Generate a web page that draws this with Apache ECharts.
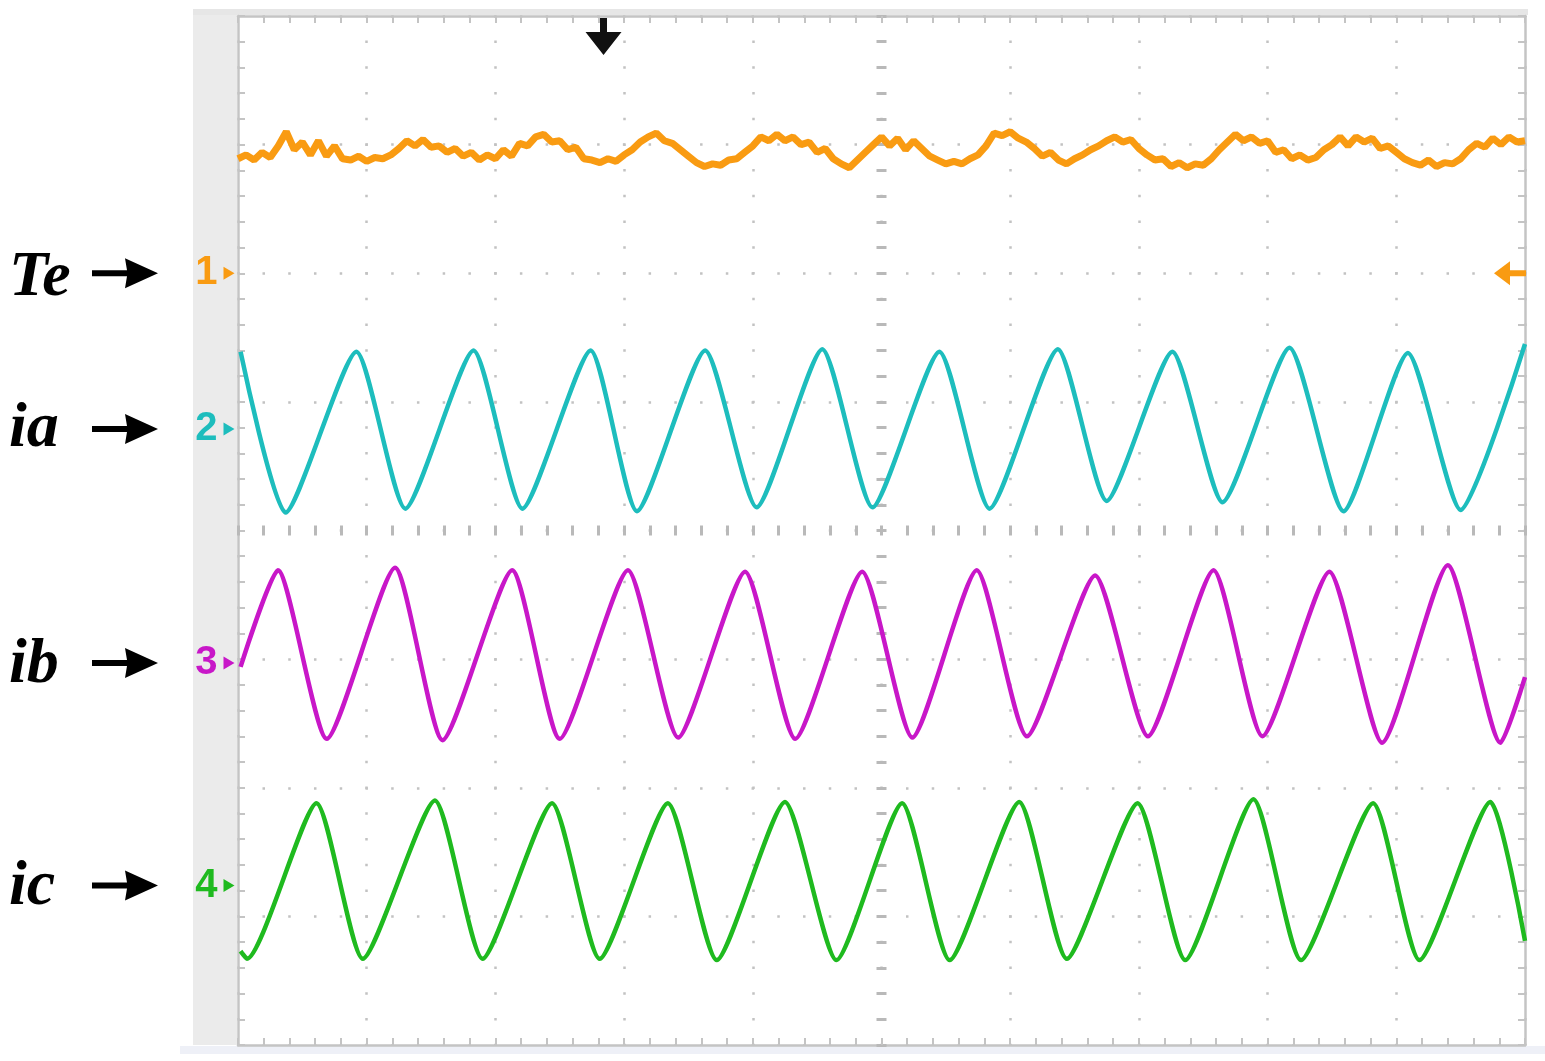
<!DOCTYPE html>
<html>
<head>
<meta charset="utf-8">
<script src="https://cdn.jsdelivr.net/npm/echarts@6/dist/echarts.min.js"></script>
<style>
html, body { margin: 0; padding: 0; background: #fff; }
#chart { width: 1545px; height: 1061px; }
</style>
</head>
<body>
<div id="chart"></div>
<script>
// scope screen, 10 x 8 divisions; every value below is in divisions
const channelNames = ['Te', 'ia', 'ib', 'ic']
const channelIds = ['1', '2', '3', '4']
const channelLevels = [6.0, 4.79, 2.97, 1.24] // ground markers, from the bottom
const channelColors = ['#f99b12', '#1dbdbd', '#c817c8', '#1fba1f']
const triggerTime = 2.84

// Te: sampled every 1/16 div, offset above ground marker 1
const teStep = 0.0625
const teValues = [
  0.89, 0.92, 0.88, 0.94, 0.90, 0.99, 1.10, 0.96, 1.02, 0.92,
  1.03, 0.91, 0.99, 0.89, 0.88, 0.91, 0.87, 0.90, 0.89, 0.92,
  0.97, 1.03, 0.99, 1.04, 0.98, 0.99, 0.94, 0.97, 0.91, 0.94,
  0.88, 0.92, 0.89, 0.96, 0.91, 1.01, 0.99, 1.06, 1.08, 1.02,
  1.03, 0.96, 0.98, 0.89, 0.88, 0.86, 0.89, 0.87, 0.92, 0.96,
  1.02, 1.06, 1.09, 1.03, 1.01, 0.96, 0.91, 0.86, 0.83, 0.85,
  0.84, 0.88, 0.89, 0.94, 0.99, 1.06, 1.03, 1.08, 1.03, 1.06,
  1.00, 1.02, 0.94, 0.97, 0.89, 0.85, 0.82, 0.88, 0.94, 1.00,
  1.06, 0.99, 1.05, 0.96, 1.03, 0.97, 0.91, 0.88, 0.85, 0.87,
  0.85, 0.89, 0.92, 0.99, 1.09, 1.07, 1.10, 1.05, 1.02, 0.97,
  0.91, 0.94, 0.88, 0.85, 0.89, 0.92, 0.96, 0.99, 1.03, 1.06,
  1.02, 1.04, 0.97, 0.92, 0.88, 0.89, 0.83, 0.86, 0.82, 0.85,
  0.84, 0.89, 0.96, 1.02, 1.08, 1.03, 1.06, 1.01, 1.03, 0.94,
  0.96, 0.89, 0.92, 0.88, 0.90, 0.96, 1.00, 1.06, 0.99, 1.06,
  1.02, 1.05, 0.97, 0.99, 0.94, 0.89, 0.86, 0.84, 0.88, 0.83,
  0.86, 0.85, 0.89, 0.96, 1.01, 0.98, 1.05, 1.00, 1.06, 1.02,
  1.03,
]

// phase currents: [time div, offset from own ground marker] at peaks and troughs
const iaPoints = [
  [0.02, 0.60], [0.37, -0.65], [0.92, 0.60], [1.30, -0.62], [1.83, 0.61], [2.21, -0.62],
  [2.74, 0.61], [3.10, -0.64], [3.63, 0.61], [4.03, -0.61], [4.54, 0.62], [4.93, -0.61],
  [5.45, 0.60], [5.84, -0.62], [6.37, 0.62], [6.75, -0.56], [7.26, 0.60], [7.65, -0.57],
  [8.17, 0.63], [8.59, -0.64], [9.09, 0.59], [9.50, -0.63], [10.0, 0.66],
]
const ibPoints = [
  [0.02, -0.03], [0.31, 0.72], [0.69, -0.59], [1.22, 0.74], [1.59, -0.60], [2.13, 0.72],
  [2.50, -0.59], [3.03, 0.72], [3.42, -0.58], [3.94, 0.71], [4.33, -0.59], [4.85, 0.71],
  [5.24, -0.58], [5.74, 0.72], [6.13, -0.57], [6.66, 0.68], [7.07, -0.57], [7.58, 0.72],
  [7.96, -0.57], [8.48, 0.71], [8.89, -0.62], [9.40, 0.76], [9.81, -0.62], [10.0, -0.11],
]
const icPoints = [
  [0.02, -0.51], [0.07, -0.57], [0.61, 0.64], [0.97, -0.57], [1.53, 0.66], [1.90, -0.57],
  [2.44, 0.64], [2.81, -0.57], [3.34, 0.64], [3.72, -0.58], [4.25, 0.65], [4.65, -0.58],
  [5.16, 0.64], [5.53, -0.58], [6.07, 0.65], [6.44, -0.57], [6.99, 0.64], [7.36, -0.58],
  [7.89, 0.67], [8.26, -0.58], [8.82, 0.64], [9.18, -0.58], [9.73, 0.65], [10.0, -0.43],
]

const borderColor = '#c4c4c4'
const dotColor = '#c2c2c2'
const plotHeight = 1061 - 32
const plotWidth = 1545 - 238 - 20

function scopeAxis(extra) {
  return {
    type: 'value',
    axisLabel: { show: false },
    axisLine: { show: true, onZero: false, lineStyle: { color: borderColor, width: 2.5 } },
    axisTick: { show: true, inside: true, length: 7, lineStyle: { color: borderColor, width: 2 } },
    minorTick: { show: true, splitNumber: 5, length: 7, lineStyle: { color: borderColor, width: 2 } },
    splitLine: { show: false },
    ...extra,
  }
}

function centerAxis(extra, inside) {
  return scopeAxis({
    axisLine: { show: false, onZero: false },
    axisTick: { show: true, inside, length: 5, lineStyle: { color: '#b9b9b9', width: 3 } },
    minorTick: { show: true, splitNumber: 5, length: 5, lineStyle: { color: '#b9b9b9', width: 3 } },
    ...extra,
  })
}

const xRange = { min: 0, max: 10, interval: 1 }
const yRange = { min: 0, max: 8, interval: 1 }

function groundMarker(index) {
  return {
    coord: [0, channelLevels[index]],
    symbol: 'path://M0,0 L10,6 L0,12 Z',
    symbolSize: [11, 13],
    symbolOffset: [-9, 0],
    itemStyle: { color: channelColors[index] },
    label: {
      show: true, position: 'left', distance: 6, formatter: channelIds[index],
      color: channelColors[index], fontSize: 40, fontWeight: 'bold', fontFamily: 'Liberation Sans',
    },
  }
}

function currentSeries(index, points) {
  return {
    name: channelNames[index], type: 'line', xAxisIndex: 0, yAxisIndex: 0,
    data: points.map(([t, v]) => [t, channelLevels[index] + v]),
    showSymbol: false, smooth: 0.2, silent: true,
    lineStyle: { color: channelColors[index], width: 4.5 },
    markPoint: { silent: true, data: [groundMarker(index)] },
  }
}

const option = {
  animation: false,
  backgroundColor: '#fff',
  grid: { left: 238, right: 20, top: 16, bottom: 16 },
  xAxis: [
    scopeAxis({
      ...xRange, position: 'bottom',
      splitLine: { show: true, lineStyle: { color: dotColor, width: 2.5, type: [2.5, plotHeight / 40 - 2.5], dashOffset: 1.25 } },
    }),
    scopeAxis({ ...xRange, position: 'top' }),
    centerAxis({ ...xRange, position: 'bottom', offset: -plotHeight / 2 }, true),
    centerAxis({ ...xRange, position: 'bottom', offset: -plotHeight / 2 }, false),
  ],
  yAxis: [
    scopeAxis({
      ...yRange, position: 'left',
      splitLine: { show: true, lineStyle: { color: dotColor, width: 2.5, type: [2.5, plotWidth / 50 - 2.5], dashOffset: 1.25 } },
    }),
    scopeAxis({ ...yRange, position: 'right' }),
    centerAxis({ ...yRange, position: 'left', offset: -plotWidth / 2 }, true),
    centerAxis({ ...yRange, position: 'left', offset: -plotWidth / 2 }, false),
  ],
  series: [
    {
      name: channelNames[0], type: 'line', xAxisIndex: 0, yAxisIndex: 0,
      data: teValues.map((v, i) => [i * teStep, channelLevels[0] + v]),
      showSymbol: false, silent: true,
      lineStyle: { color: channelColors[0], width: 7, join: 'bevel' },
      markPoint: {
        silent: true,
        data: [
          groundMarker(0),
          {
            coord: [10, channelLevels[0]],
            symbol: 'path://M0,12 L16,0 L16,9 L32,9 L32,15 L16,15 L16,24 Z',
            symbolSize: [32, 24], symbolOffset: [-15, 0],
            itemStyle: { color: channelColors[0] }, label: { show: false },
          },
          {
            coord: [triggerTime, 8],
            symbol: 'path://M-3.5,0 L3.5,0 L3.5,14 L18,14 L0,37 L-18,14 L-3.5,14 Z',
            symbolSize: [36, 37], symbolOffset: [0, 20.5],
            itemStyle: { color: '#111' }, label: { show: false },
          },
        ],
      },
    },
    currentSeries(1, iaPoints),
    currentSeries(2, ibPoints),
    currentSeries(3, icPoints),
  ],
}

const chart = echarts.init(document.getElementById('chart'))
chart.setOption(option)

const labelOffsets = [5, 1, 2, 2]
const graphics = [
  { type: 'rect', shape: { x: 193, y: 9, width: 1335, height: 6 }, style: { fill: '#e6e6e6' } },
  { type: 'rect', shape: { x: 193, y: 15, width: 44, height: 1030 }, style: { fill: '#ebebeb' } },
  { type: 'rect', shape: { x: 180, y: 1046, width: 1365, height: 8 }, style: { fill: '#eef0f7' } },
]
channelNames.forEach((name, i) => {
  const y = chart.convertToPixel({ yAxisIndex: 0 }, channelLevels[i])
  graphics.push({
    type: 'text', x: 9, y: y + labelOffsets[i],
    style: {
      text: name, fill: '#000', fontSize: 64, fontStyle: 'italic', fontWeight: 'bold',
      fontFamily: 'Liberation Serif', verticalAlign: 'middle', align: 'left',
    },
  })
  graphics.push({
    type: 'polygon', x: 0, y,
    shape: { points: [[92, -3], [127, -3], [125, -15], [158, 0], [125, 15], [127, 3], [92, 3]] },
    style: { fill: '#000' },
  })
})
chart.setOption({ graphic: graphics })
</script>
</body>
</html>
